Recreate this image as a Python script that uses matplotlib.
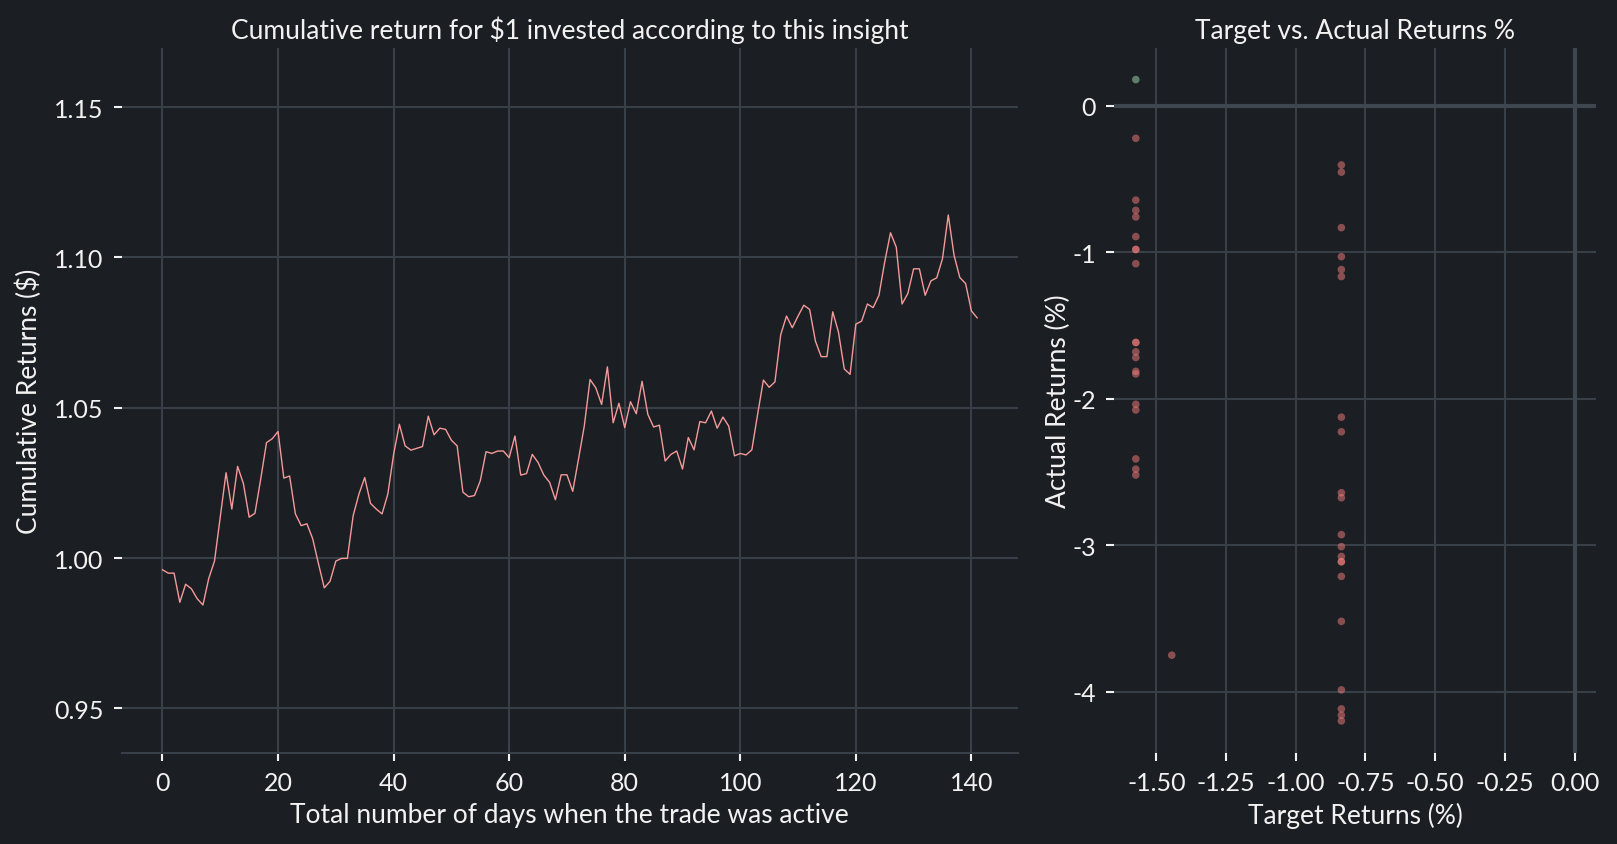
import numpy as np
import matplotlib
matplotlib.use("Agg")
import matplotlib.pyplot as plt

# cumulative return of $1, one value per active day (0..141)
cum_returns = [
    0.9961, 0.9950, 0.9950, 0.9853, 0.9913, 0.9898, 0.9865, 0.9844, 0.9932, 0.9990,
    1.0136, 1.0284, 1.0163, 1.0305, 1.0248, 1.0136, 1.0149, 1.0263, 1.0384, 1.0397,
    1.0421, 1.0266, 1.0273, 1.0147, 1.0108, 1.0114, 1.0064, 0.9981, 0.9901, 0.9923,
    0.9990, 0.9999, 0.9999, 1.0141, 1.0213, 1.0268, 1.0182, 1.0163, 1.0147, 1.0213,
    1.0345, 1.0445, 1.0373, 1.0359, 1.0365, 1.0371, 1.0472, 1.0410, 1.0432, 1.0428,
    1.0392, 1.0373, 1.0219, 1.0204, 1.0208, 1.0257, 1.0354, 1.0348, 1.0356, 1.0356,
    1.0334, 1.0406, 1.0276, 1.0281, 1.0345, 1.0318, 1.0276, 1.0252, 1.0194, 1.0277,
    1.0277, 1.0222, 1.0329, 1.0439, 1.0594, 1.0566, 1.0511, 1.0636, 1.0450, 1.0515,
    1.0434, 1.0520, 1.0480, 1.0588, 1.0478, 1.0436, 1.0442, 1.0323, 1.0345, 1.0356,
    1.0296, 1.0401, 1.0360, 1.0454, 1.0450, 1.0489, 1.0432, 1.0469, 1.0439, 1.0340,
    1.0348, 1.0343, 1.0360, 1.0478, 1.0592, 1.0568, 1.0586, 1.0743, 1.0805, 1.0766,
    1.0805, 1.0841, 1.0827, 1.0722, 1.0670, 1.0670, 1.0819, 1.0751, 1.0629, 1.0611,
    1.0778, 1.0788, 1.0845, 1.0833, 1.0874, 1.0985, 1.1082, 1.1034, 1.0845, 1.0880,
    1.0962, 1.0962, 1.0874, 1.0922, 1.0932, 1.0996, 1.1141, 1.1007, 1.0933, 1.0913,
    1.0822, 1.0799,
]
days = np.arange(len(cum_returns))

# target vs actual returns (%) for each trade
target_returns = [
    -1.574, -1.574, -1.574, -1.574, -1.574, -1.574, -1.574, -1.574, -1.574, -1.574,
    -1.574, -1.574, -1.574, -1.574, -1.574, -1.574, -1.574, -1.574, -1.574, -1.574,
    -1.445,
    -0.8365, -0.8365, -0.8365, -0.8365, -0.8365, -0.8365, -0.8365, -0.8365, -0.8365,
    -0.8365, -0.8365, -0.8365, -0.8365, -0.8365, -0.8365, -0.8365, -0.8365, -0.8365,
    -0.8365, -0.8365, -0.8365,
]
actual_returns = [
    0.179, -0.222, -0.644, -0.714, -0.759, -0.893, -0.981, -0.981, -1.078, -1.616,
    -1.616, -1.680, -1.719, -1.813, -1.831, -2.038, -2.077, -2.411, -2.481, -2.521,
    -3.751,
    -0.404, -0.453, -0.832, -1.030, -1.118, -1.166, -2.126, -2.226, -2.642, -2.676,
    -2.928, -3.010, -3.077, -3.113, -3.113, -3.213, -3.520, -3.988, -4.118, -4.161,
    -4.200,
]

bg = "#1b1e23"
grid_c = "#393f47"
text_c = "#f2f2f2"

plt.rcParams["font.family"] = ["Lato", "DejaVu Sans"]
plt.rcParams["axes.unicode_minus"] = False
plt.rcParams["text.color"] = text_c
plt.rcParams["axes.labelcolor"] = text_c
plt.rcParams["xtick.color"] = text_c
plt.rcParams["ytick.color"] = text_c

fig = plt.figure(figsize=(16.17, 8.45), dpi=100, facecolor=bg)

ax1 = fig.add_axes([0.0753, 0.1077, 0.5542, 0.8349], facecolor=bg)
ax2 = fig.add_axes([0.6888, 0.1077, 0.2985, 0.8349], facecolor=bg)

# left: cumulative return line
ax1.plot(days, cum_returns, color="#f59a9a", lw=1.0)
ax1.set_ylim(min(cum_returns) * 0.95, max(cum_returns) * 1.05)
ax1.set_xticks(range(0, 141, 20))
ax1.set_yticks([0.95, 1.00, 1.05, 1.10, 1.15])
ax1.yaxis.set_major_formatter(matplotlib.ticker.FormatStrFormatter("%.2f"))
ax1.set_title("Cumulative return for $1 invested according to this insight", fontsize=19, pad=7)
ax1.set_xlabel("Total number of days when the trade was active", fontsize=19, labelpad=6)
ax1.set_ylabel("Cumulative Returns ($)", fontsize=19, labelpad=9)

# right: target vs actual scatter
ax2.axhline(0, color="#3e4650", lw=3, zorder=1)
ax2.axvline(0, color="#3e4650", lw=3, zorder=1)
pt_colors = ["#a1dcb5" if a > 0 else "#f97e7d" for a in actual_returns]
ax2.scatter(target_returns, actual_returns, s=30, c=pt_colors, alpha=0.5, lw=0, zorder=3)
ax2.set_xlim(-1.653, 0.0787)
ax2.set_ylim(-4.419, 0.398)
ax2.set_xticks([-1.5, -1.25, -1.0, -0.75, -0.5, -0.25, 0.0])
ax2.xaxis.set_major_formatter(matplotlib.ticker.FormatStrFormatter("%.2f"))
ax2.set_yticks([0, -1, -2, -3, -4])
ax2.set_title("Target vs. Actual Returns %", fontsize=19, pad=7)
ax2.set_xlabel("Target Returns (%)", fontsize=19, labelpad=6)
ax2.set_ylabel("Actual Returns (%)", fontsize=19, labelpad=1)

for ax in (ax1, ax2):
    ax.grid(True, color=grid_c, lw=1.5)
    ax.set_axisbelow(True)
    for s in ax.spines.values():
        s.set_visible(False)
    ax.tick_params(labelsize=18, length=6, width=1.5, pad=7)
ax1.spines["bottom"].set_visible(True)
ax1.spines["bottom"].set_color(grid_c)
ax1.spines["bottom"].set_linewidth(1.5)

fig.savefig("out.png", dpi=100, facecolor=bg)
